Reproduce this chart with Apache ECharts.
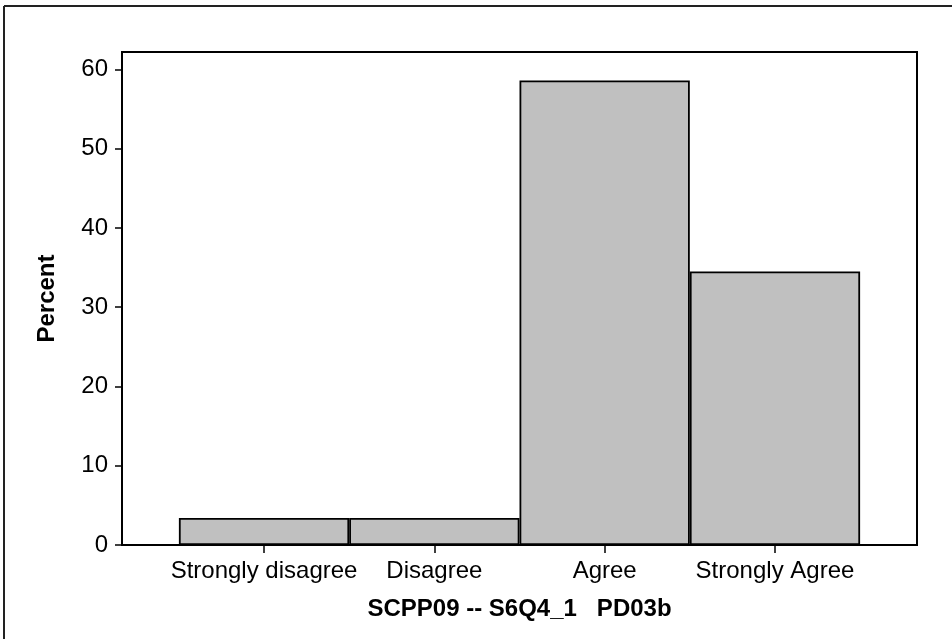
<!DOCTYPE html>
<html>
<head>
<meta charset="utf-8">
<script src="https://cdn.jsdelivr.net/npm/echarts@6/dist/echarts.min.js"></script>
<style>html,body{margin:0;padding:0;background:#fff;}#c{width:952px;height:639px;}</style>
</head>
<body>
<div id="c"></div>
<script>
var categories = ['Strongly disagree', 'Disagree', 'Agree', 'Strongly Agree'];
var percents = [3.4, 3.4, 58.6, 34.5];
var yTicks = [0, 10, 20, 30, 40, 50, 60];
var xTitle = 'SCPP09 -- S6Q4_1   PD03b';
var yTitle = 'Percent';

var chart = echarts.init(document.getElementById('c'), null, {renderer: 'canvas'});
var catIdx = categories.map(function (c, i) { return i; });
var font = '"Liberation Sans", Arial, sans-serif';
chart.setOption({
  animation: false,
  backgroundColor: '#fff',
  graphic: [
    {type: 'line', shape: {x1: 4, y1: 6, x2: 952, y2: 6}, style: {stroke: '#222', lineWidth: 2}},
    {type: 'line', shape: {x1: 4, y1: 6, x2: 4, y2: 639}, style: {stroke: '#222', lineWidth: 2}}
  ],
  grid: {left: 122, right: 35, top: 52, bottom: 94, show: true, borderColor: '#000', borderWidth: 2},
  xAxis: {
    type: 'value', min: -0.834, max: 3.834,
    splitLine: {show: false},
    axisLine: {show: true, onZero: false, lineStyle: {color: '#000', width: 2}},
    axisTick: {show: true, length: 8, customValues: catIdx, lineStyle: {color: '#000', width: 1.5}},
    axisLabel: {customValues: catIdx, margin: 14, fontSize: 24, color: '#000', fontFamily: font,
      formatter: function (v) { return categories[Math.round(v)]; }},
    name: xTitle, nameLocation: 'middle', nameGap: 52,
    nameTextStyle: {fontSize: 24, fontWeight: 'bold', color: '#000', fontFamily: font}
  },
  yAxis: {
    type: 'value', min: 0, max: 62.2,
    splitLine: {show: false},
    axisLine: {show: true, onZero: false, lineStyle: {color: '#000', width: 2}},
    axisTick: {show: true, length: 7, customValues: yTicks, lineStyle: {color: '#000', width: 1.5}},
    axisLabel: {customValues: yTicks, margin: 14, fontSize: 24, color: '#000', fontFamily: font},
    name: yTitle, nameLocation: 'middle', nameGap: 63, nameRotate: 90,
    nameTextStyle: {fontSize: 24, fontWeight: 'bold', color: '#000', fontFamily: font}
  },
  series: [{
    type: 'bar',
    data: percents.map(function (v, i) { return [i, v]; }),
    barWidth: 170.3,
    itemStyle: {color: '#c0c0c0', borderColor: '#000', borderWidth: 1.8}
  }]
});
</script>
</body>
</html>
